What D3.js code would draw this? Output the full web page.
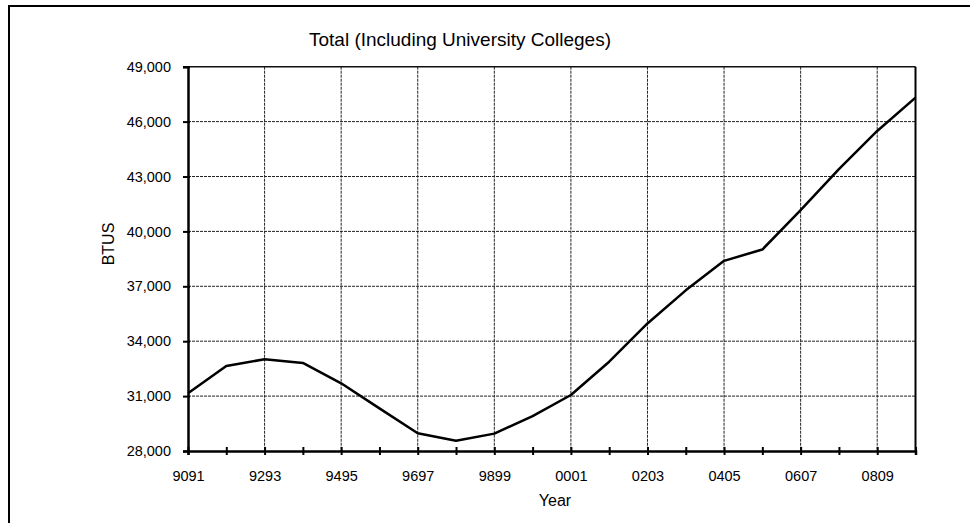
<!DOCTYPE html>
<html>
<head>
<meta charset="utf-8">
<script src="https://cdn.jsdelivr.net/npm/d3@7"></script>
<style>
  html, body { margin: 0; padding: 0; background: #fff; }
  svg { display: block; font-family: "Liberation Sans", Arial, sans-serif; }
</style>
</head>
<body>
<svg id="chart" width="970" height="523"></svg>
<script>
const categories = ["9091","9192","9293","9394","9495","9596","9697","9798","9899","9900",
                    "0001","0102","0203","0304","0405","0506","0607","0708","0809","0910"];
const btus = [31150, 32650, 33010, 32810, 31700, 30330, 28970, 28560, 28950, 29910,
              31060, 32880, 34970, 36780, 38390, 39010, 41160, 43400, 45490, 47310];
const yTicks = [28000, 31000, 34000, 37000, 40000, 43000, 46000, 49000];
const labelledCategories = ["9091","9293","9495","9697","9899","0001","0203","0405","0607","0809"];
const title = "Total (Including University Colleges)";
const xTitle = "Year";
const yTitle = "BTUS";

(function () {
const svg = d3.select("#chart");
const pL = 188, pR = 915.5, pT = 66.7, pB = 451;

const x = d3.scalePoint().domain(categories).range([pL, pR]).padding(0);
const y = d3.scaleLinear().domain([28000, 49000]).range([pB, pT]);

// outer frame
svg.append("rect").attr("x", 9).attr("y", 6).attr("width", 980).attr("height", 540)
  .attr("fill", "none").attr("stroke", "#000").attr("stroke-width", 2);

// grid
const grid = svg.append("g");
grid.selectAll("line.h").data(yTicks.filter(d => d !== 28000 && d !== 49000)).enter().append("line")
  .attr("x1", pL).attr("x2", pR).attr("y1", d => y(d)).attr("y2", d => y(d))
  .attr("stroke", "#222").attr("stroke-width", 1).attr("stroke-dasharray", "3,1");
grid.selectAll("line.v").data(labelledCategories.filter(d => d !== categories[0])).enter().append("line")
  .attr("x1", d => x(d)).attr("x2", d => x(d)).attr("y1", pT).attr("y2", pB)
  .attr("stroke", "#222").attr("stroke-width", 1).attr("stroke-dasharray", "3,1");

// top and right border of plot
svg.append("line").attr("x1", pL).attr("x2", pR).attr("y1", pT).attr("y2", pT)
  .attr("stroke", "#111").attr("stroke-width", 1.5);
svg.append("line").attr("x1", pR).attr("x2", pR).attr("y1", pT).attr("y2", pB)
  .attr("stroke", "#000").attr("stroke-width", 2);

// x axis
const xAxis = d3.axisBottom(x).tickValues(categories).tickSize(4).tickPadding(16)
  .tickFormat(d => labelledCategories.includes(d) ? d : "");
const gx = svg.append("g").attr("transform", `translate(0,${pB})`).call(xAxis);
gx.select(".domain").attr("stroke", "#000").attr("stroke-width", 2.5);
gx.selectAll(".tick line").attr("stroke", "#000").attr("stroke-width", 2).attr("y1", -4).attr("y2", 4);
gx.selectAll(".tick text").attr("font-size", "14.5px").attr("fill", "#000")
  .attr("font-family", "'Liberation Sans', Arial, sans-serif");

// y axis
const yAxis = d3.axisLeft(y).tickValues(yTicks).tickSize(5).tickPadding(12).tickFormat(d3.format(","));
const gy = svg.append("g").attr("transform", `translate(${pL},0)`).call(yAxis);
gy.select(".domain").attr("stroke", "#000").attr("stroke-width", 2.5);
gy.selectAll(".tick line").attr("stroke", "#000").attr("stroke-width", 2).attr("x1", -5).attr("x2", 2);
gy.selectAll(".tick text").attr("font-size", "14.5px").attr("fill", "#000")
  .attr("font-family", "'Liberation Sans', Arial, sans-serif");

// line
const line = d3.line().x((d, i) => x(categories[i])).y(d => y(d));
svg.append("path").datum(btus).attr("d", line)
  .attr("fill", "none").attr("stroke", "#000").attr("stroke-width", 2.5)
  .attr("stroke-linejoin", "round");

// titles
svg.append("text").attr("x", 460).attr("y", 46).attr("text-anchor", "middle")
  .attr("font-size", "19px").attr("fill", "#000").text(title);
svg.append("text").attr("x", 555).attr("y", 506).attr("text-anchor", "middle")
  .attr("font-size", "16px").attr("fill", "#000").text(xTitle);
svg.append("text").attr("transform", "translate(114,244) rotate(-90)").attr("text-anchor", "middle")
  .attr("font-size", "16px").attr("fill", "#000").text(yTitle);
})();
</script>
</body>
</html>
